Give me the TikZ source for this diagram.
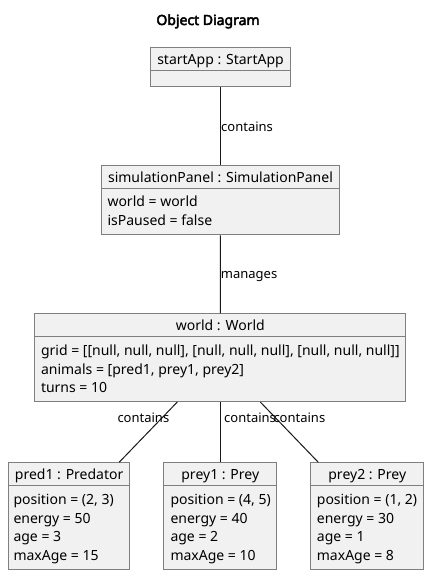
\documentclass[tikz,border=0pt]{standalone}
\usepackage{fontspec}
\setmainfont{Noto Sans}
\newfontfamily\titlefont{Noto Sans}[FakeBold=3.5]
\usetikzlibrary{positioning}
\definecolor{boxfill}{HTML}{F1F1F1}
\definecolor{boxline}{HTML}{7F7F7F}
\definecolor{linkcol}{HTML}{181818}
\tikzset{
obj/.style={draw=boxline, fill=boxfill, line width=1pt, anchor=north west, inner sep=0pt},
objname/.style={anchor=base, inner sep=0pt, font=\fontsize{14}{18.7}\selectfont},
attrs/.style={anchor=base west, inner sep=0pt, font=\fontsize{14}{18.7}\selectfont},
link/.style={draw=linkcol, line width=1pt},
lbl/.style={anchor=base west, inner sep=0pt, font=\fontsize{13}{16}\selectfont}
}
\newcommand{\objbox}[6]{
\node[obj, minimum width=#4pt, minimum height=#5pt] (#1) at (#2,#3) {};
\node[objname] (#1-name) at ([yshift=-17pt]#1.north) {#6};
\draw[boxline, line width=1pt] ([yshift=-23pt]#1.north west) -- ([yshift=-23pt]#1.north east);
}
\newcommand{\attrlines}[1]{\begin{tabular}[t]{@{}l@{}}#1\end{tabular}}

\begin{document}
\begin{tikzpicture}[x=1pt,y=-1pt]
\useasboundingbox (0,0) rectangle (429,575);
\node[anchor=base, inner sep=0pt, font=\fontsize{14}{17}\titlefont] (title) at (208,25) {Object Diagram};

% objects
\objbox{startApp}{150.3}{47.3}{139.4}{39}{startApp : StartApp}
\objbox{simulationPanel}{101.3}{165.3}{237.4}{69}{simulationPanel : SimulationPanel}
\node[attrs] (simulationPanel-attrs) at ([xshift=6pt,yshift=-41.5pt]simulationPanel.north west) {\attrlines{world = world\\isPaused = false}};
\objbox{world}{34.3}{313.3}{371}{87.7}{world : World}
\node[attrs] (world-attrs) at ([xshift=6.5pt,yshift=-42pt]world.north west) {\attrlines{grid = [[null, null, null], [null, null, null], [null, null, null]]\\animals = [pred1, prey1, prey2]\\turns = 10}};
\objbox{pred1}{8.3}{462.3}{120.7}{106.7}{pred1 : Predator}
\node[attrs] (pred1-attrs) at ([xshift=5pt,yshift=-42pt]pred1.north west) {\attrlines{position = (2, 3)\\energy = 50\\age = 3\\maxAge = 15}};
\objbox{prey1}{163.3}{462.3}{113}{106.7}{prey1 : Prey}
\node[attrs] (prey1-attrs) at ([xshift=7pt,yshift=-42pt]prey1.north west) {\attrlines{position = (4, 5)\\energy = 40\\age = 2\\maxAge = 10}};
\objbox{prey2}{310.3}{462.3}{113}{106.7}{prey2 : Prey}
\node[attrs] (prey2-attrs) at ([xshift=6.4pt,yshift=-42pt]prey2.north west) {\attrlines{position = (1, 2)\\energy = 30\\age = 1\\maxAge = 8}};

% links
\draw[link] (startApp) -- (simulationPanel);
\draw[link] (simulationPanel) -- (world);
\draw[link] ([xshift=-43pt]world.south) -- ([xshift=50pt]pred1.north);
\draw[link] (world) -- (prey1);
\draw[link] ([xshift=40pt]world.south) -- ([xshift=-49pt]prey2.north);

% link labels
\node[lbl] (startApp-lbl) at (221,131.7) {contains};
\node[lbl] (simulationPanel-lbl) at (220.7,278) {manages};
\node[lbl] (pred1-lbl) at (117.3,422.7) {contains};
\node[lbl] (prey1-lbl) at (224,422.7) {contains};
\node[lbl] (prey2-lbl) at (273.3,422.7) {contains};
\end{tikzpicture}
\end{document}
